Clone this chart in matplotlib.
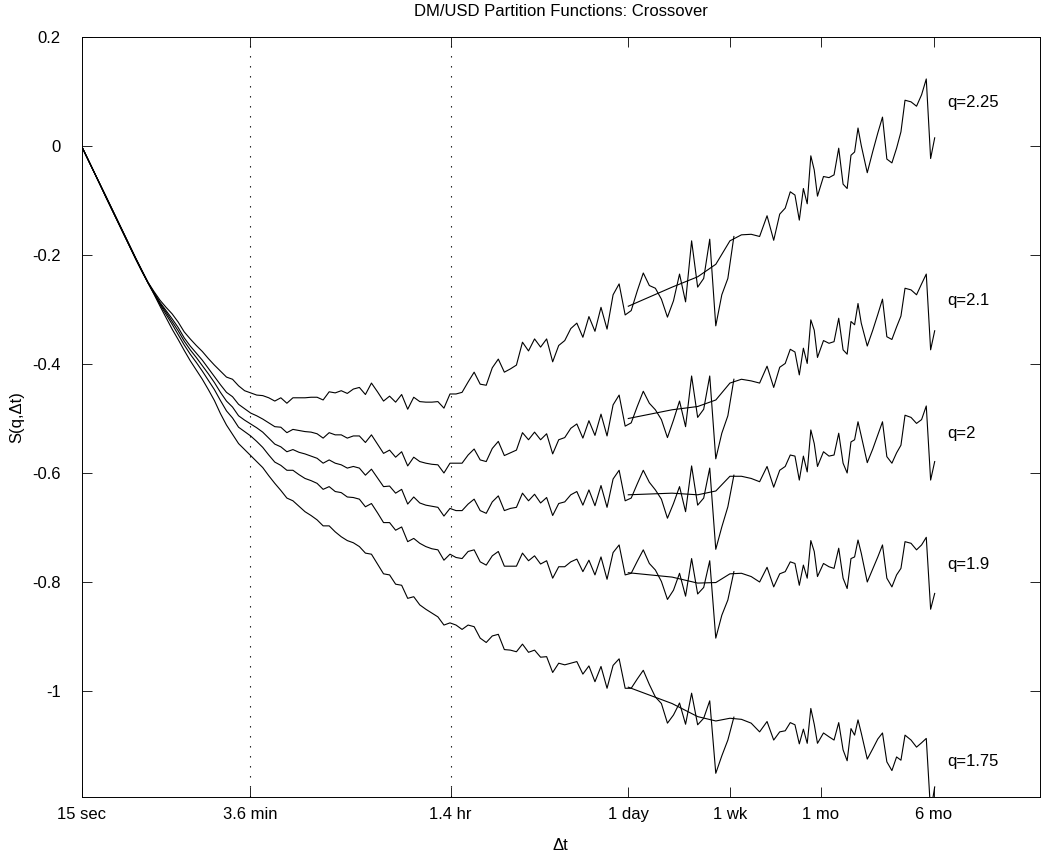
import numpy as np
import matplotlib
matplotlib.use("Agg")
import matplotlib.pyplot as plt
from matplotlib.ticker import NullLocator, FixedLocator, FixedFormatter

plt.rcParams['font.family'] = ['Liberation Sans', 'DejaVu Sans']
plt.rcParams['axes.unicode_minus'] = False

# ---------------- data ----------------
title = "DM/USD Partition Functions: Crossover"
q_labels = ["q=2.25", "q=2.1", "q=2", "q=1.9", "q=1.75"]
q_label_S = [0.079, -0.283, -0.527, -0.767, -1.130]

xtick_sec = [15, 216, 5184, 86400, 432000, 1814400, 10886400]
xtick_labels = ["15 sec", "3.6 min", "1.4 hr", "1 day", "1 wk", "1 mo", "6 mo"]
ytick_vals = [-1, -0.8, -0.6, -0.4, -0.2, 0, 0.2]
ytick_labels = ["-1", "-0.8", "-0.6", "-0.4", "-0.2", "0", "0.2"]
marked_lags_sec = [216, 5184]

# intraday (high-frequency) lags: 109 log-spaced lags from 15 s to ~5.3 days
n_intraday = 109
lag_intraday_sec = np.geomspace(15, 4.6e5, n_intraday)

# daily-data lags (trading days)
lag_daily_days = [1, 2, 3, 4, 5, 6, 7, 8, 9, 10, 11, 12, 13, 14, 15, 16, 17, 18, 19, 20,
                  22, 24, 26, 28, 30, 32, 34, 36, 38, 40,
                  44, 48, 52, 56, 60,
                  65, 70, 75, 80,
                  88, 96, 104, 112, 120, 128]

S_intraday_q225 = [
    0.0, -0.023, -0.046, -0.069, -0.091, -0.114, -0.137, -0.160, -0.183, -0.206,
    -0.228, -0.250, -0.267, -0.283, -0.296, -0.308, -0.323, -0.341, -0.354, -0.366,
    -0.377, -0.390, -0.402, -0.413, -0.424, -0.428, -0.440, -0.449, -0.453, -0.457,
    -0.458, -0.462, -0.468, -0.462, -0.472, -0.462, -0.462, -0.462, -0.461, -0.461,
    -0.466, -0.451, -0.453, -0.449, -0.454, -0.446, -0.443, -0.456, -0.435, -0.451,
    -0.468, -0.459, -0.470, -0.456, -0.483, -0.461, -0.469, -0.470, -0.470, -0.469,
    -0.481, -0.455, -0.455, -0.452, -0.433, -0.415, -0.437, -0.439, -0.407, -0.391,
    -0.415, -0.409, -0.402, -0.360, -0.376, -0.354, -0.369, -0.354, -0.396, -0.366,
    -0.357, -0.335, -0.325, -0.351, -0.313, -0.340, -0.296, -0.336, -0.273, -0.253,
    -0.310, -0.302, -0.266, -0.233, -0.256, -0.261, -0.281, -0.314, -0.284, -0.235,
    -0.286, -0.174, -0.259, -0.243, -0.171, -0.330, -0.273, -0.243, -0.166]

S_intraday_q21 = [
    0.0, -0.023, -0.046, -0.069, -0.092, -0.115, -0.138, -0.161, -0.184, -0.207,
    -0.229, -0.250, -0.269, -0.287, -0.302, -0.317, -0.333, -0.352, -0.367, -0.380,
    -0.393, -0.408, -0.423, -0.438, -0.452, -0.460, -0.474, -0.482, -0.490, -0.495,
    -0.501, -0.508, -0.515, -0.516, -0.526, -0.520, -0.522, -0.524, -0.525, -0.528,
    -0.536, -0.526, -0.530, -0.530, -0.536, -0.532, -0.532, -0.544, -0.530, -0.547,
    -0.564, -0.558, -0.571, -0.561, -0.587, -0.571, -0.579, -0.582, -0.584, -0.585,
    -0.600, -0.582, -0.582, -0.582, -0.567, -0.556, -0.576, -0.579, -0.555, -0.542,
    -0.568, -0.563, -0.558, -0.526, -0.539, -0.525, -0.539, -0.528, -0.565, -0.539,
    -0.535, -0.518, -0.510, -0.536, -0.504, -0.531, -0.492, -0.532, -0.475, -0.457,
    -0.514, -0.508, -0.478, -0.450, -0.472, -0.484, -0.502, -0.535, -0.503, -0.468,
    -0.515, -0.422, -0.498, -0.483, -0.422, -0.574, -0.527, -0.495, -0.428]

S_intraday_q2 = [
    0.0, -0.023, -0.046, -0.069, -0.092, -0.115, -0.138, -0.161, -0.184, -0.207,
    -0.229, -0.251, -0.270, -0.289, -0.305, -0.322, -0.339, -0.358, -0.374, -0.388,
    -0.403, -0.418, -0.434, -0.452, -0.468, -0.479, -0.495, -0.503, -0.510, -0.517,
    -0.525, -0.536, -0.547, -0.552, -0.561, -0.557, -0.562, -0.565, -0.569, -0.573,
    -0.582, -0.576, -0.582, -0.585, -0.591, -0.588, -0.591, -0.604, -0.593, -0.609,
    -0.625, -0.624, -0.637, -0.630, -0.657, -0.644, -0.655, -0.659, -0.661, -0.663,
    -0.679, -0.665, -0.669, -0.669, -0.657, -0.648, -0.669, -0.674, -0.653, -0.642,
    -0.669, -0.665, -0.663, -0.637, -0.651, -0.639, -0.655, -0.645, -0.678, -0.656,
    -0.653, -0.640, -0.634, -0.659, -0.631, -0.660, -0.623, -0.663, -0.611, -0.595,
    -0.651, -0.646, -0.620, -0.595, -0.617, -0.631, -0.648, -0.683, -0.656, -0.625,
    -0.671, -0.587, -0.659, -0.646, -0.591, -0.740, -0.699, -0.662, -0.604]

S_intraday_q19 = [
    0.0, -0.023, -0.046, -0.069, -0.093, -0.116, -0.139, -0.162, -0.185, -0.208,
    -0.230, -0.251, -0.271, -0.291, -0.309, -0.327, -0.346, -0.365, -0.382, -0.397,
    -0.413, -0.430, -0.447, -0.467, -0.486, -0.499, -0.516, -0.524, -0.532, -0.542,
    -0.553, -0.567, -0.580, -0.586, -0.595, -0.595, -0.603, -0.610, -0.614, -0.619,
    -0.630, -0.625, -0.634, -0.636, -0.644, -0.645, -0.648, -0.662, -0.656, -0.673,
    -0.691, -0.691, -0.705, -0.699, -0.726, -0.720, -0.729, -0.735, -0.739, -0.741,
    -0.760, -0.749, -0.755, -0.757, -0.744, -0.741, -0.763, -0.769, -0.752, -0.744,
    -0.771, -0.771, -0.771, -0.747, -0.761, -0.752, -0.767, -0.761, -0.793, -0.772,
    -0.772, -0.763, -0.758, -0.781, -0.760, -0.787, -0.754, -0.795, -0.746, -0.732,
    -0.787, -0.784, -0.762, -0.741, -0.766, -0.778, -0.799, -0.832, -0.815, -0.784,
    -0.826, -0.757, -0.822, -0.810, -0.761, -0.903, -0.861, -0.833, -0.781]

S_intraday_q175 = [
    0.0, -0.023, -0.046, -0.069, -0.093, -0.116, -0.139, -0.162, -0.185, -0.208,
    -0.230, -0.251, -0.272, -0.294, -0.315, -0.336, -0.355, -0.375, -0.394, -0.411,
    -0.428, -0.447, -0.467, -0.491, -0.512, -0.529, -0.546, -0.557, -0.568, -0.579,
    -0.590, -0.605, -0.619, -0.632, -0.646, -0.651, -0.661, -0.671, -0.678, -0.686,
    -0.697, -0.697, -0.708, -0.717, -0.724, -0.728, -0.735, -0.747, -0.749, -0.767,
    -0.785, -0.787, -0.804, -0.806, -0.830, -0.827, -0.842, -0.850, -0.857, -0.864,
    -0.879, -0.875, -0.879, -0.887, -0.879, -0.882, -0.903, -0.911, -0.899, -0.896,
    -0.924, -0.925, -0.928, -0.914, -0.929, -0.925, -0.938, -0.937, -0.966, -0.949,
    -0.952, -0.949, -0.946, -0.969, -0.954, -0.983, -0.955, -0.995, -0.953, -0.941,
    -0.995, -0.995, -0.978, -0.962, -0.988, -1.011, -1.023, -1.059, -1.044, -1.022,
    -1.061, -1.004, -1.062, -1.050, -1.018, -1.151, -1.119, -1.090, -1.048]

S_daily_q225 = [
    -0.294, -0.259, -0.240, -0.217, -0.174, -0.163, -0.162, -0.166, -0.128, -0.173,
    -0.125, -0.114, -0.084, -0.090, -0.136, -0.078, -0.106, -0.018, -0.044, -0.092,
    -0.056, -0.058, -0.053, -0.004, -0.070, -0.078, -0.017, -0.011, 0.033, 0.001,
    -0.049, -0.010, 0.024, 0.053, -0.024,
    -0.031, -0.004, 0.026, 0.084,
    0.081, 0.073, 0.094, 0.123, -0.023, 0.015]

S_daily_q21 = [
    -0.500, -0.484, -0.478, -0.466, -0.435, -0.428, -0.431, -0.435, -0.404, -0.443,
    -0.406, -0.399, -0.373, -0.378, -0.420, -0.371, -0.399, -0.319, -0.338, -0.388,
    -0.357, -0.362, -0.359, -0.316, -0.374, -0.382, -0.322, -0.328, -0.289, -0.325,
    -0.367, -0.338, -0.309, -0.281, -0.350,
    -0.355, -0.332, -0.312, -0.261,
    -0.264, -0.273, -0.253, -0.235, -0.374, -0.339]

S_daily_q2 = [
    -0.640, -0.637, -0.640, -0.633, -0.606, -0.606, -0.610, -0.616, -0.588, -0.626,
    -0.595, -0.588, -0.567, -0.569, -0.613, -0.569, -0.598, -0.521, -0.546, -0.588,
    -0.561, -0.569, -0.567, -0.527, -0.582, -0.600, -0.543, -0.539, -0.506, -0.532,
    -0.581, -0.556, -0.530, -0.506, -0.570,
    -0.582, -0.563, -0.549, -0.494,
    -0.498, -0.509, -0.502, -0.477, -0.613, -0.579]

S_daily_q19 = [
    -0.783, -0.791, -0.802, -0.801, -0.785, -0.784, -0.790, -0.800, -0.773, -0.809,
    -0.785, -0.781, -0.763, -0.766, -0.806, -0.769, -0.793, -0.724, -0.744, -0.790,
    -0.766, -0.772, -0.775, -0.738, -0.793, -0.812, -0.757, -0.754, -0.723, -0.747,
    -0.800, -0.776, -0.754, -0.732, -0.793,
    -0.809, -0.787, -0.775, -0.726,
    -0.729, -0.741, -0.732, -0.718, -0.850, -0.821]

S_daily_q175 = [
    -0.993, -1.023, -1.047, -1.055, -1.050, -1.052, -1.059, -1.075, -1.056, -1.090,
    -1.075, -1.073, -1.058, -1.062, -1.097, -1.070, -1.096, -1.032, -1.061, -1.096,
    -1.077, -1.084, -1.090, -1.058, -1.108, -1.128, -1.069, -1.081, -1.053, -1.077,
    -1.125, -1.106, -1.088, -1.077, -1.130,
    -1.146, -1.121, -1.127, -1.081,
    -1.090, -1.103, -1.095, -1.087, -1.222, -1.176]

intraday_series = [S_intraday_q225, S_intraday_q21, S_intraday_q2,
                   S_intraday_q19, S_intraday_q175]
daily_series = [S_daily_q225, S_daily_q21, S_daily_q2, S_daily_q19, S_daily_q175]

# ---------------- figure ----------------
W, H = 1049, 858
fig = plt.figure(figsize=(W / 100, H / 100), dpi=100)
ax_l, ax_r, ax_t, ax_b = 81.5, 1040, 37, 797
ax = fig.add_axes([ax_l / W, 1 - ax_b / H, (ax_r - ax_l) / W, (ax_b - ax_t) / H])

lag_daily_sec = np.array(lag_daily_days) * 86400.0
for s_in, s_day in zip(intraday_series, daily_series):
    ax.plot(lag_intraday_sec, s_in, color='k', lw=0.8)
    ax.plot(lag_daily_sec, s_day, color='k', lw=0.8)

for xv in marked_lags_sec:
    ax.axvline(xv, color='k', lw=0.8, linestyle=(0, (1.2, 7.8)))

ax.set_xscale('log')
ax.set_xlim(15, 5.86e7)
ax.set_ylim(-1.1945, 0.2)

ax.xaxis.set_major_locator(FixedLocator(xtick_sec))
ax.xaxis.set_major_formatter(FixedFormatter(xtick_labels))
ax.xaxis.set_minor_locator(NullLocator())
ax.yaxis.set_major_locator(FixedLocator(ytick_vals))
ax.yaxis.set_major_formatter(FixedFormatter(ytick_labels))
ax.yaxis.set_minor_locator(NullLocator())

ax.tick_params(axis='both', direction='in', length=7, width=0.6,
               top=True, right=True, labelsize=12)
ax.tick_params(axis='x', pad=7)
ax.tick_params(axis='y', pad=15)
for sp in ax.spines.values():
    sp.set_linewidth(0.7)

for lab, yv in zip(q_labels, q_label_S):
    ax.text(1.345e7, yv, lab, ha='left', va='center', fontsize=12)

cx = (ax_l + ax_r) / 2 / W
fig.text(cx, 1 - 12 / H, title, ha='center', va='center', fontsize=12)
fig.text(cx, 1 - 845 / H, "\u0394t", ha='center', va='center', fontsize=12)
fig.text(17 / W, 1 - 417 / H, "S(q,\u0394t)", ha='center', va='center',
         rotation=90, fontsize=12)

fig.savefig("out.png", dpi=100)
